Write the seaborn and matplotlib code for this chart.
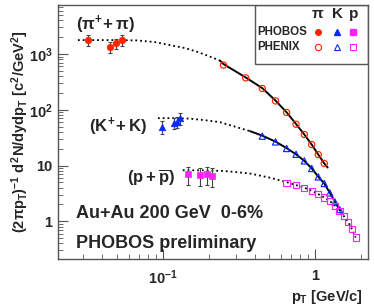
#!/usr/bin/env python3
"""Identified particle spectra, Au+Au 200 GeV 0-6%, PHOBOS + PHENIX."""

import matplotlib
matplotlib.use("Agg")
import matplotlib.pyplot as plt
import seaborn as sns
import pandas as pd

# PHOBOS low-pT points (filled) with errors
phobos_pi_pt = [0.032, 0.045, 0.049, 0.054]
phobos_pi_y = [1780, 1345, 1550, 1780]
phobos_pi_err = [380, 300, 330, 380]

phobos_k_pt = [0.098, 0.118, 0.124, 0.130]
phobos_k_y = [50, 58, 60, 70]
phobos_k_err = [14, 13, 13, 17]

phobos_p_pt = [0.147, 0.175, 0.194, 0.209]
phobos_p_y = [6.9, 6.7, 6.9, 6.6]
phobos_p_err = [2.4, 2.4, 2.4, 2.4]

# PHENIX points (open)
phenix_pi_pt = [0.25, 0.35, 0.45, 0.55, 0.65, 0.75, 0.85, 0.95, 1.05, 1.15]
phenix_pi_y = [633, 374, 241, 144, 89.5, 55, 36, 23.8, 15.7, 10.9]

phenix_k_pt = [0.45, 0.55, 0.65, 0.75, 0.85, 0.95, 1.05, 1.15, 1.25, 1.35, 1.45]
phenix_k_y = [33.6, 26.5, 20.2, 15.9, 12.1, 8.84, 6.24, 4.75, 3.22, 2.22, 1.62]

phenix_p_pt = [0.65, 0.75, 0.85, 0.95, 1.05, 1.15, 1.25, 1.35, 1.45, 1.55, 1.65, 1.75, 1.85]
phenix_p_y = [4.91, 4.43, 3.99, 3.53, 3.05, 2.66, 2.31, 1.90, 1.51, 1.23, 0.96, 0.72, 0.51]

# fit curves: extrapolated part (dotted) and fit range (solid)
fit_pi_dot_pt = [0.0276, 0.0448, 0.0675, 0.0886, 0.111, 0.140, 0.168, 0.204, 0.237]
fit_pi_dot_y = [1778, 1778, 1754, 1636, 1446, 1277, 1096, 898, 762]
fit_pi_pt = [0.237, 0.25, 0.35, 0.45, 0.55, 0.65, 0.75, 0.85, 0.95, 1.05, 1.15, 1.21]
fit_pi_y = [762, 660, 380, 244, 146, 90, 55.5, 36, 23.8, 15.7, 10.9, 9.2]

fit_k_dot_pt = [0.0927, 0.120, 0.151, 0.189, 0.237, 0.298, 0.374]
fit_k_dot_y = [70.7, 70.7, 69.2, 65.0, 59.9, 49.7, 41.3]
fit_k_pt = [0.374, 0.45, 0.55, 0.65, 0.75, 0.85, 0.95, 1.05, 1.15, 1.25, 1.35, 1.46]
fit_k_y = [41.3, 34.3, 26.8, 20.5, 15.9, 12.1, 8.9, 6.3, 4.75, 3.25, 2.25, 1.55]

fit_p_pt = [0.135, 0.189, 0.256, 0.374, 0.506, 0.654, 0.75, 0.85, 0.95, 1.05, 1.15,
            1.25, 1.35, 1.45, 1.55, 1.65, 1.75, 1.85]
fit_p_y = [8.24, 8.17, 7.96, 7.18, 6.04, 5.01, 4.45, 4.0, 3.53, 3.07, 2.67,
           2.31, 1.90, 1.52, 1.23, 0.97, 0.72, 0.51]

y_ticks = [1, 10, 100, 1000]
y_ticklabels = ['1', '10', r'$10^{2}$', r'$10^{3}$']
x_ticks = [0.1, 1]
x_ticklabels = [r'$10^{-1}$', '1']

RED = '#ff2200'
BLUE = '#0a28ff'
MAG = '#ff22ff'

sns.set_style('ticks')
plt.rcParams['font.family'] = ['Liberation Sans', 'DejaVu Sans']
plt.rcParams['font.weight'] = 'bold'
plt.rcParams['mathtext.fontset'] = 'custom'
plt.rcParams['mathtext.rm'] = 'Liberation Sans:bold'
plt.rcParams['mathtext.it'] = 'Liberation Sans:bold'
plt.rcParams['mathtext.bf'] = 'Liberation Sans:bold'

fig = plt.figure(figsize=(3.74, 3.08), dpi=100)
ax = fig.add_axes([0.155, 0.159, 0.829, 0.825])
ax.set_xscale('log')
ax.set_yscale('log')

# fit curves
for xs, ys, ls, lw in [(fit_pi_dot_pt, fit_pi_dot_y, ':', 1.3),
                       (fit_k_dot_pt, fit_k_dot_y, ':', 1.3),
                       (fit_pi_pt, fit_pi_y, '-', 1.4),
                       (fit_k_pt, fit_k_y, '-', 1.4),
                       (fit_p_pt, fit_p_y, ':', 1.3)]:
    d = pd.DataFrame({'pt': xs, 'y': ys})
    sns.lineplot(data=d, x='pt', y='y', ax=ax, color='black', linestyle=ls,
                 linewidth=lw, sort=False, estimator=None)

# PHENIX open markers
for xs, ys, col, mk in [(phenix_pi_pt, phenix_pi_y, RED, 'o'),
                        (phenix_k_pt, phenix_k_y, BLUE, '^'),
                        (phenix_p_pt, phenix_p_y, MAG, 's')]:
    d = pd.DataFrame({'pt': xs, 'y': ys})
    sns.scatterplot(data=d, x='pt', y='y', ax=ax, marker=mk, s=20,
                    facecolors='none', edgecolor=col, linewidth=0.85, zorder=3)

# PHOBOS filled markers with error bars
for xs, ys, es, col, mk in [(phobos_pi_pt, phobos_pi_y, phobos_pi_err, RED, 'o'),
                            (phobos_k_pt, phobos_k_y, phobos_k_err, BLUE, '^'),
                            (phobos_p_pt, phobos_p_y, phobos_p_err, MAG, 's')]:
    ax.errorbar(xs, ys, yerr=es, fmt='none', ecolor='#444444', elinewidth=0.8,
                capsize=1.5, capthick=0.8, zorder=2)
    d = pd.DataFrame({'pt': xs, 'y': ys})
    sns.scatterplot(data=d, x='pt', y='y', ax=ax, marker=mk, s=22,
                    color=col, edgecolor=col, linewidth=0.5, zorder=4)

ax.set_xlim(0.0204, 2.23)
ax.set_ylim(0.21, 7600)
ax.set_xticks(x_ticks)
ax.set_xticklabels(x_ticklabels)
ax.set_yticks(y_ticks)
ax.set_yticklabels(y_ticklabels)
ax.tick_params(which='both', direction='in', labelsize=10.5, color='#555555')
ax.tick_params(axis='x', pad=7)
ax.tick_params(axis='y', pad=4)
ax.tick_params(which='major', length=7, width=0.8)
ax.tick_params(which='minor', length=3.5, width=0.6)
for sp in ax.spines.values():
    sp.set_color('#555555')
    sp.set_linewidth(1.0)

ax.set_xlabel(r'$p_{T}$ [GeV/c]', fontsize=10.5, fontweight='bold')
ax.xaxis.set_label_coords(0.985, -0.115)
ax.xaxis.label.set_ha('right')
ax.set_ylabel(r'$(2\pi p_{T})^{-1}$ $d^{2}N/dydp_{T}$ [$c^{2}$/GeV$^{2}$]',
              fontsize=10.5, fontweight='bold')
ax.yaxis.set_label_coords(-0.088, 0.5)

# species labels and run info
ax.text(0.058, 0.9, r'$(\pi^{+}\!+\pi)$', transform=ax.transAxes, fontsize=12)
ax.text(0.1, 0.5, r'$(K^{+}\!+K)$', transform=ax.transAxes, fontsize=12)
ax.text(0.222, 0.3, r'$(p+\overline{p})$', transform=ax.transAxes, fontsize=12)
ax.text(0.058, 0.163, 'Au+Au 200 GeV  0-6%', transform=ax.transAxes, fontsize=13)
ax.text(0.058, 0.042, 'PHOBOS preliminary', transform=ax.transAxes, fontsize=13)

# hand-drawn legend box, top right
box = plt.Rectangle((0.637, 0.768), 0.363, 0.232, transform=ax.transAxes,
                    fill=False, edgecolor='#555555', linewidth=1.0)
ax.add_patch(box)
cols = [0.838, 0.9, 0.952]
for cx, lab in zip(cols, [r'$\pi$', 'K', 'p']):
    ax.text(cx, 0.963, lab, transform=ax.transAxes, fontsize=11,
            ha='center', va='center')
ax.text(0.643, 0.895, 'PHOBOS', transform=ax.transAxes, fontsize=8.3, va='center')
ax.text(0.643, 0.835, 'PHENIX', transform=ax.transAxes, fontsize=8.3, va='center')
for cx, col, mk in zip(cols, [RED, BLUE, MAG], ['o', '^', 's']):
    ax.plot([cx], [0.895], marker=mk, color=col, markersize=4, transform=ax.transAxes,
            linestyle='none', clip_on=False)
    ax.plot([cx], [0.835], marker=mk, markerfacecolor='none', markeredgecolor=col,
            markersize=4.5, markeredgewidth=0.8, transform=ax.transAxes,
            linestyle='none', clip_on=False)

fig.savefig('out.png', dpi=100)
